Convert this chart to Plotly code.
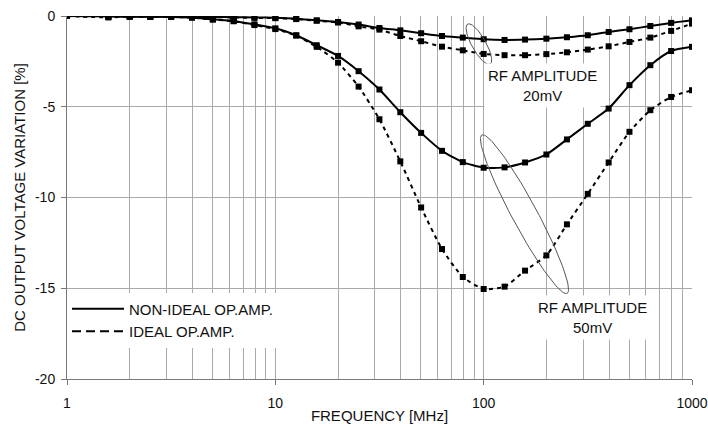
import numpy as np
import plotly.graph_objects as go

# ---------------- data ----------------
FREQ_MHZ = [1, 1.58, 2, 2.51, 3.16, 3.98, 5.01, 6.31, 7.94, 10,
            12.6, 15.8, 20, 25.1, 31.6, 39.8, 50.1, 63.1, 79.4, 100,
            126, 158, 200, 251, 316, 398, 501, 631, 794, 1000]

NONIDEAL_20MV = [0, -0.02, -0.03, -0.03, -0.03, -0.05, -0.05, -0.07, -0.08, -0.10,
                 -0.15, -0.24, -0.33, -0.47, -0.66, -0.79, -0.95, -1.10, -1.19, -1.28,
                 -1.32, -1.30, -1.25, -1.17, -1.06, -0.88, -0.73, -0.55, -0.38, -0.24]
IDEAL_20MV = [0, -0.03, -0.03, -0.03, -0.04, -0.05, -0.06, -0.08, -0.10, -0.12,
              -0.17, -0.26, -0.36, -0.57, -0.75, -1.10, -1.39, -1.69, -1.89, -2.09,
              -2.16, -2.16, -2.10, -2.00, -1.85, -1.67, -1.43, -1.19, -0.82, -0.42]
NONIDEAL_50MV = [0, -0.02, -0.03, -0.04, -0.05, -0.08, -0.18, -0.27, -0.46, -0.68,
                 -1.06, -1.61, -2.20, -3.04, -4.05, -5.30, -6.44, -7.43, -8.05, -8.36,
                 -8.34, -8.07, -7.63, -6.80, -5.94, -5.10, -3.81, -2.71, -1.93, -1.70]
IDEAL_50MV = [0, -0.08, -0.03, -0.04, -0.05, -0.09, -0.20, -0.29, -0.50, -0.72,
              -1.08, -1.70, -2.57, -3.89, -5.69, -8.01, -10.55, -12.84, -14.38, -15.04,
              -14.91, -14.03, -13.19, -11.48, -9.80, -8.07, -6.38, -5.19, -4.46, -4.09]

X_TICKS = [1, 10, 100, 1000]
X_TICK_LABELS = ["1", "10", "100", "1000"]
Y_TICKS = [0, -5, -10, -15, -20]
Y_TICK_LABELS = ["0", "-5", "-10", "-15", "-20"]

LEGEND_NAMES = ["NON-IDEAL OP.AMP.", "IDEAL OP.AMP."]
LABEL_20 = "RF AMPLITUDE<br>20mV"
LABEL_50 = "RF AMPLITUDE<br>50mV"

# ---------------- styling ----------------
FONT = "Liberation Sans, Arial, sans-serif"
TXT = "#111111"
GRID = "#aaaaaa"
AXIS = "#777777"

# pixel scale of plot area (for ellipse shape geometry)
W, H = 708, 424
ML, MR, MT, MB = 67, 16, 16, 45
PX_PER_DECADE = (W - ML - MR) / 3.0
PX_PER_UNIT = (H - MT - MB) / 20.0


def ellipse(center_logf, center_y, a_px, b_px, tilt_deg, n=120):
    th = np.radians(tilt_deg)
    t = np.linspace(0, 2 * np.pi, n)
    mx, my = np.sin(th), np.cos(th)          # major axis dir (pixel, y down)
    nx, ny = np.cos(th), -np.sin(th)         # minor axis dir
    dx = a_px * np.cos(t) * mx + b_px * np.sin(t) * nx
    dy = a_px * np.cos(t) * my + b_px * np.sin(t) * ny
    xs = 10 ** (center_logf + dx / PX_PER_DECADE)
    ys = center_y - dy / PX_PER_UNIT
    return xs, ys


fig = go.Figure()

series = [
    (NONIDEAL_20MV, "solid"),
    (IDEAL_20MV, "4px,4px"),
    (NONIDEAL_50MV, "solid"),
    (IDEAL_50MV, "4px,4px"),
]
for vals, dash in series:
    fig.add_trace(go.Scatter(
        x=FREQ_MHZ, y=vals, mode="lines+markers",
        line=dict(color="black", width=2, dash=dash, shape="spline", smoothing=0.6),
        marker=dict(symbol="square", size=6, color="black"),
        showlegend=False, hoverinfo="skip"))

# ellipses marking the curve pairs
for c in [(1.977, -1.55, 23, 7, 29.3), (2.196, -10.92, 90, 12.5, 28.3)]:
    ex, ey = ellipse(*c)
    fig.add_trace(go.Scatter(x=ex, y=ey, mode="lines",
                             line=dict(color="#555555", width=1),
                             showlegend=False, hoverinfo="skip"))

# legend entries
for name, dash in zip(LEGEND_NAMES, ["solid", "9px,5px"]):
    fig.add_trace(go.Scatter(x=[None], y=[None], mode="lines", name=name,
                             line=dict(color="black", width=2, dash=dash)))

fig.add_annotation(x=2.283, y=-3.81, xref="x", yref="y", text=LABEL_20,
                   showarrow=False, font=dict(family=FONT, size=15, color=TXT),
                   bgcolor="white", borderpad=3)
fig.add_annotation(x=2.524, y=-16.61, xref="x", yref="y", text=LABEL_50,
                   showarrow=False, font=dict(family=FONT, size=15, color=TXT),
                   bgcolor="white", borderpad=3)

fig.update_layout(
    width=W, height=H,
    margin=dict(l=ML, r=MR, t=MT, b=MB, autoexpand=False),
    paper_bgcolor="white", plot_bgcolor="white",
    font=dict(family=FONT, size=14, color=TXT),
    legend=dict(x=0.0, y=0.238, xanchor="left", yanchor="top",
                bgcolor="white", font=dict(family=FONT, size=15, color=TXT),
                tracegroupgap=0, itemwidth=52),
    showlegend=True,
)

fig.update_xaxes(
    type="log", range=[0, 3], automargin=False,
    tickvals=X_TICKS, ticktext=X_TICK_LABELS,
    ticks="outside", ticklen=5, tickcolor=AXIS, ticklabelstandoff=6,
    showgrid=True, gridcolor=GRID, gridwidth=1,
    minor=dict(dtick="D1", showgrid=True, gridcolor=GRID, gridwidth=1, ticks=""),
    showline=True, linecolor=AXIS, linewidth=1,
    title=dict(text="FREQUENCY [MHz]", font=dict(family=FONT, size=15, color=TXT), standoff=6),
    tickfont=dict(family=FONT, size=14, color=TXT),
)
fig.update_yaxes(
    range=[-20, 0], automargin=False,
    tickvals=Y_TICKS, ticktext=Y_TICK_LABELS,
    ticks="outside", ticklen=5, tickcolor=AXIS, ticklabelstandoff=3,
    showgrid=True, gridcolor=GRID, gridwidth=1, zeroline=False,
    showline=True, linecolor=AXIS, linewidth=1,
    title=dict(text="DC OUTPUT VOLTAGE VARIATION [%]",
               font=dict(family=FONT, size=15, color=TXT), standoff=5),
    tickfont=dict(family=FONT, size=14, color=TXT),
)

fig.write_html("out.html")
